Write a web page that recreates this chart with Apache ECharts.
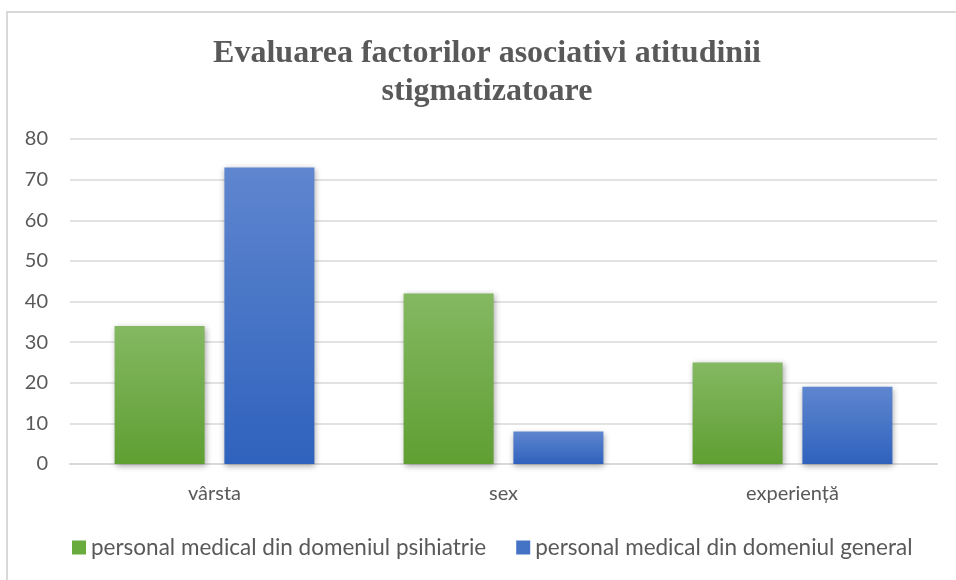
<!DOCTYPE html>
<html>
<head>
<meta charset="utf-8">
<script src="https://cdn.jsdelivr.net/npm/echarts@6/dist/echarts.min.js"></script>
<style>
  html, body { margin: 0; padding: 0; background: #fff; }
  #chart { width: 956px; height: 580px; }
</style>
</head>
<body>
<div id="chart"></div>
<script>
var categories = ['vârsta', 'sex', 'experiență'];
var seriesNames = ['personal medical din domeniul psihiatrie', 'personal medical din domeniul general'];
var psihiatrie = [34, 42, 25];
var general = [73, 8, 19];

var chart = echarts.init(document.getElementById('chart'));

function grad(top, bottom) {
  return new echarts.graphic.LinearGradient(0, 0, 0, 1, [
    { offset: 0, color: top },
    { offset: 1, color: bottom }
  ]);
}

var option = {
  animation: false,
  backgroundColor: '#fff',
  graphic: [{
    type: 'rect',
    shape: { x: 7, y: 12, width: 1000, height: 1000 },
    style: { fill: 'none', stroke: '#d9d9d9', lineWidth: 2 }
  }],
  title: {
    text: 'Evaluarea factorilor asociativi atitudinii\nstigmatizatoare',
    left: 482,
    textAlign: 'center',
    top: 30,
    textStyle: {
      fontFamily: 'Liberation Serif',
      fontWeight: 'bold',
      fontSize: 32,
      lineHeight: 38,
      color: '#595959'
    }
  },
  legend: {
    bottom: 16,
    left: 67,
    padding: 5,
    itemWidth: 14,
    itemHeight: 14,
    itemGap: 30,
    icon: 'rect',
    textStyle: { fontFamily: 'Lato', fontSize: 22.5, color: '#595959', padding: [0, 0, 0, 0] }
  },
  grid: { left: 70, right: 19, top: 139, bottom: 116 },
  xAxis: {
    type: 'category',
    data: categories,
    axisLine: { lineStyle: { color: '#d9d9d9', width: 2 } },
    axisTick: { show: false },
    axisLabel: { fontFamily: 'Lato', fontSize: 20, color: '#595959', margin: 20 }
  },
  yAxis: {
    type: 'value',
    min: 0,
    max: 80,
    interval: 10,
    axisLine: { show: false },
    axisTick: { show: false },
    splitLine: { lineStyle: { color: '#d9d9d9', width: 1.5 } },
    axisLabel: { fontFamily: 'Lato', fontSize: 20, color: '#595959', margin: 22 }
  },
  series: [{
    name: seriesNames[0],
    type: 'bar',
    data: psihiatrie,
    barWidth: 90,
    barGap: '22%',
    itemStyle: {
      color: grad('#84b862', '#5f9f32'),
      shadowBlur: 6,
      shadowColor: 'rgba(0,0,0,0.35)',
      shadowOffsetX: 1,
      shadowOffsetY: 2
    }
  }, {
    name: seriesNames[1],
    type: 'bar',
    data: general,
    barWidth: 90,
    itemStyle: {
      color: grad('#5f86cf', '#2f62bd'),
      shadowBlur: 6,
      shadowColor: 'rgba(0,0,0,0.35)',
      shadowOffsetX: 1,
      shadowOffsetY: 2
    }
  }]
};
option.legend.data = [
  { name: seriesNames[0], itemStyle: { color: '#6aab3e' } },
  { name: seriesNames[1], itemStyle: { color: '#4472c4' } }
];
chart.setOption(option);
</script>
</body>
</html>
